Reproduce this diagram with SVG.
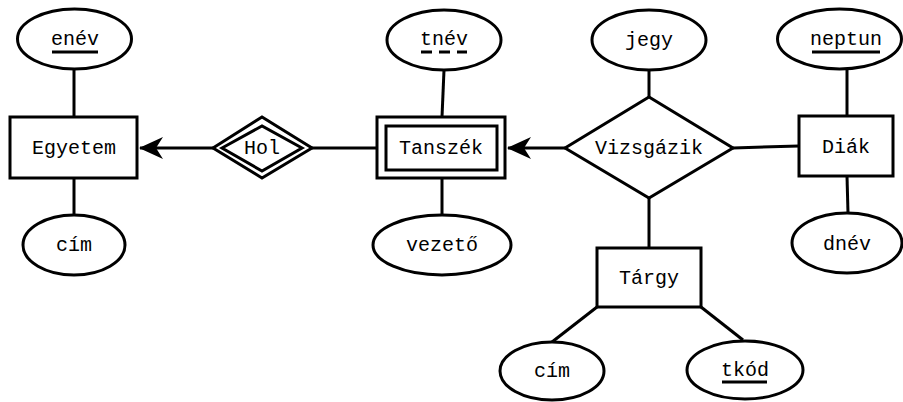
<svg xmlns="http://www.w3.org/2000/svg" width="903" height="402" viewBox="0 0 903 402">
<style>
.s{fill:#fff;stroke:#000;stroke-width:3}
.l{stroke:#000;stroke-width:3;fill:none}
.t{font-family:"Liberation Mono","DejaVu Sans Mono",monospace;font-size:20px;fill:#000;text-anchor:middle}
.u{stroke:#000;stroke-width:3}
</style>
<defs>
<marker id="arr" viewBox="0 0 24 22" refX="23" refY="11" markerWidth="24" markerHeight="22" markerUnits="userSpaceOnUse" orient="auto">
<path d="M24,11 L0,0 L7,11 L0,22 Z" fill="#000"/>
</marker>
</defs>
<g id="connectors">
<line class="l" x1="74" y1="69" x2="74" y2="117"/>
<line class="l" x1="74" y1="178" x2="74" y2="215"/>
<line class="l" x1="213" y1="148" x2="140" y2="148" marker-end="url(#arr)"/>
<line class="l" x1="312" y1="148" x2="377" y2="148"/>
<line class="l" x1="444" y1="70" x2="442" y2="117"/>
<line class="l" x1="442" y1="178" x2="442" y2="215"/>
<line class="l" x1="565" y1="148" x2="508" y2="148" marker-end="url(#arr)"/>
<line class="l" x1="649" y1="70" x2="649" y2="97"/>
<line class="l" x1="733" y1="148" x2="799" y2="146"/>
<line class="l" x1="847" y1="69" x2="847" y2="116"/>
<line class="l" x1="847" y1="176" x2="848" y2="213"/>
<line class="l" x1="649" y1="198" x2="649" y2="248"/>
<line class="l" x1="597" y1="307" x2="552" y2="342"/>
<line class="l" x1="701" y1="307" x2="743" y2="340"/>
</g>
<g id="enev">
<ellipse class="s" cx="74.5" cy="39" rx="57" ry="30"/>
<text class="t" x="75" y="45">enév</text>
<line class="u" x1="52" y1="52" x2="98" y2="52"/>
</g>
<g id="egyetem">
<rect class="s" x="10" y="117" width="127" height="61"/>
<text class="t" x="74" y="154">Egyetem</text>
</g>
<g id="cim1">
<ellipse class="s" cx="74" cy="245" rx="51" ry="30"/>
<text class="t" x="74" y="251">cím</text>
</g>
<g id="hol">
<polygon class="s" points="213,148 262,117 312,148 262,178"/>
<polygon class="s" points="222,148 262,126 302,148 262,171"/>
<text class="t" x="262" y="154">Hol</text>
</g>
<g id="tanszek">
<rect class="s" x="377" y="117" width="128" height="61"/>
<rect class="s" x="386" y="126" width="111" height="44"/>
<text class="t" x="441" y="154">Tanszék</text>
</g>
<g id="tnev">
<ellipse class="s" cx="444" cy="40" rx="57" ry="30"/>
<text class="t" x="444" y="45">tnév</text>
<line class="u" x1="421" y1="52" x2="467" y2="52" stroke-dasharray="11,7"/>
</g>
<g id="vezeto">
<ellipse class="s" cx="442" cy="245" rx="69" ry="30"/>
<text class="t" x="442" y="251">vezető</text>
</g>
<g id="vizsgazik">
<polygon class="s" points="565,148 649,97 733,148 649,198"/>
<text class="t" x="649" y="154">Vizsgázik</text>
</g>
<g id="jegy">
<ellipse class="s" cx="649" cy="40" rx="57" ry="30"/>
<text class="t" x="649" y="46">jegy</text>
</g>
<g id="neptun">
<ellipse class="s" cx="839.5" cy="39" rx="62" ry="30"/>
<text class="t" x="846" y="45">neptun</text>
<line class="u" x1="812" y1="52" x2="880" y2="52"/>
</g>
<g id="diak">
<rect class="s" x="799" y="116" width="94" height="60"/>
<text class="t" x="846" y="153">Diák</text>
</g>
<g id="dnev">
<ellipse class="s" cx="847" cy="243" rx="55" ry="30"/>
<text class="t" x="847" y="250">dnév</text>
</g>
<g id="targy">
<rect class="s" x="597" y="248" width="104" height="59"/>
<text class="t" x="649" y="284">Tárgy</text>
</g>
<g id="cim2">
<ellipse class="s" cx="552" cy="371" rx="52" ry="29"/>
<text class="t" x="552" y="377">cím</text>
</g>
<g id="tkod">
<ellipse class="s" cx="745" cy="370" rx="58" ry="29"/>
<text class="t" x="745" y="376">tkód</text>
<line class="u" x1="722" y1="382" x2="767" y2="382"/>
</g>
</svg>
